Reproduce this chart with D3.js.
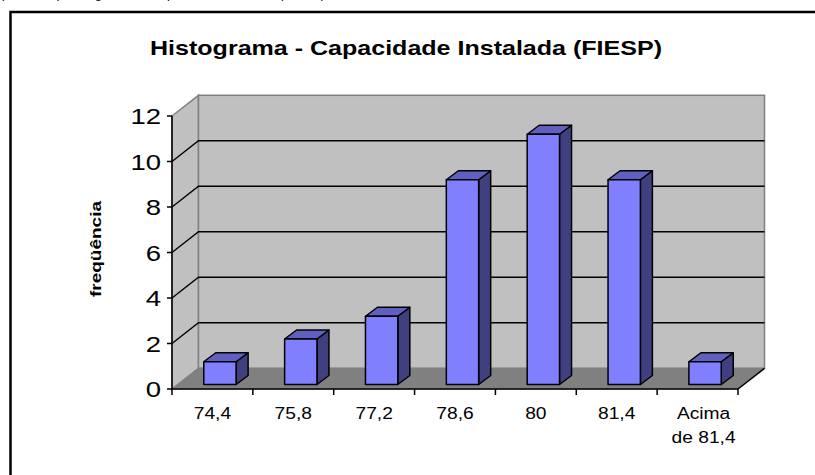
<!DOCTYPE html>
<html>
<head>
<meta charset="utf-8">
<script src="https://cdn.jsdelivr.net/npm/d3@7"></script>
<style>
  body { margin: 0; background: #fff; }
  svg { display: block; font-family: Arial, "Liberation Sans", sans-serif; }
</style>
</head>
<body>
<svg width="815" height="475"></svg>
<script>
// histogram bins and counts
const categories = ["74,4", "75,8", "77,2", "78,6", "80", "81,4", "Acima de 81,4"];
const frequencies = [1, 2, 3, 9, 11, 9, 1];
const yTicks = [0, 2, 4, 6, 8, 10, 12];

const svg = d3.select("svg");

// 3d depth of the plot box
const depthX = 26.5, depthY = -20.7;

const x = d3.scaleBand().domain(categories).range([172, 738]);
const y = d3.scaleLinear().domain([0, 12]).range([389, 116]);

// the original chart's text is drawn a bit wider than the font
function stretch(sel, factor) {
  sel.each(function () {
    const w = this.getComputedTextLength();
    d3.select(this).attr("textLength", w * factor).attr("lengthAdjust", "spacingAndGlyphs");
  });
}

// cut-off caption above the chart
svg.append("text")
  .attr("x", 0).attr("y", -2.5)
  .style("font-size", "13px")
  .text("(Gráfico 1) Histograma da capacidade instalada (FIESP)");

// chart frame (runs off the page to the right and bottom)
svg.append("rect")
  .attr("x", 10.5).attr("y", 12)
  .attr("width", 900).attr("height", 600)
  .attr("fill", "#fff").attr("stroke", "#000").attr("stroke-width", 2.5);

svg.append("text")
  .attr("x", 406).attr("y", 55)
  .attr("text-anchor", "middle")
  .style("font-size", "21px").style("font-weight", "bold")
  .text("Histograma - Capacidade Instalada (FIESP)")
  .attr("textLength", 512).attr("lengthAdjust", "spacingAndGlyphs");

const x0 = x.range()[0], x1 = x.range()[1];
const yb = y(0), yt = y(12);

// walls and floor
svg.append("polygon")
  .attr("points", [[x0, yt], [x0 + depthX, yt + depthY], [x0 + depthX, yb + depthY], [x0, yb]].join(" "))
  .attr("fill", "#c0c0c0").attr("stroke", "#808080").attr("stroke-width", 1.5);
svg.append("rect")
  .attr("x", x0 + depthX).attr("y", yt + depthY)
  .attr("width", x1 - x0).attr("height", yb - yt)
  .attr("fill", "#c0c0c0").attr("stroke", "#808080").attr("stroke-width", 1.5);
svg.append("polygon")
  .attr("points", [[x0, yb], [x0 + depthX, yb + depthY], [x1 + depthX, yb + depthY], [x1, yb]].join(" "))
  .attr("fill", "#808080").attr("stroke", "#808080").attr("stroke-width", 1);

// gridlines: left wall diagonal + back wall
const grid = yTicks.filter(d => d > 0 && d < 12);
svg.append("g").selectAll("path").data(grid).join("path")
  .attr("d", d => `M${x0},${y(d)}L${x0 + depthX},${y(d) + depthY}L${x1 + depthX},${y(d) + depthY}`)
  .attr("fill", "none").attr("stroke", "#000").attr("stroke-width", 1.4);

// y axis
svg.append("line")
  .attr("x1", x0).attr("x2", x0).attr("y1", yb).attr("y2", yt)
  .attr("stroke", "#000").attr("stroke-width", 1.5);
svg.append("g").selectAll("line").data(yTicks).join("line")
  .attr("x1", x0 - 5).attr("x2", x0).attr("y1", d => y(d)).attr("y2", d => y(d))
  .attr("stroke", "#000").attr("stroke-width", 1.5);
svg.append("g").selectAll("text").data(yTicks).join("text")
  .attr("x", x0 - 11).attr("y", d => y(d) + 8)
  .attr("text-anchor", "end")
  .style("font-size", "22px")
  .text(d => d)
  .call(stretch, 1.25);

svg.append("text")
  .attr("transform", "translate(101,249) rotate(-90)")
  .attr("text-anchor", "middle")
  .style("font-size", "15px").style("font-weight", "bold")
  .text("freqüência")
  .attr("textLength", 96).attr("lengthAdjust", "spacingAndGlyphs");

// x axis
svg.append("line")
  .attr("x1", x0).attr("x2", x1).attr("y1", yb).attr("y2", yb)
  .attr("stroke", "#000").attr("stroke-width", 1.5);
svg.append("line")
  .attr("x1", x1).attr("x2", x1 + depthX).attr("y1", yb).attr("y2", yb + depthY)
  .attr("stroke", "#000").attr("stroke-width", 1.5);
const edges = categories.map(c => x(c)).concat([x1]);
svg.append("g").selectAll("line").data(edges).join("line")
  .attr("x1", d => d).attr("x2", d => d).attr("y1", yb).attr("y2", yb + 6)
  .attr("stroke", "#000").attr("stroke-width", 1.5);

const labels = svg.append("g").selectAll("text").data(categories).join("text")
  .attr("text-anchor", "middle")
  .style("font-size", "16px");
labels.each(function (c) {
  const wrapped = c.startsWith("Acima");
  const words = wrapped ? ["Acima", "de 81,4"] : [c];
  d3.select(this).selectAll("tspan").data(words).join("tspan")
    .attr("x", x(c) + x.bandwidth() / 2 + (wrapped ? 6 : 0))
    .attr("y", (w, i) => 419 + i * 24)
    .text(w => w)
    .call(stretch, 1.2);
});

// bars
const bw = x.bandwidth() * 0.4;
const fx = 7.5, fy = -4.5, sx = 12, sy = -9;
const bars = svg.append("g").selectAll("g").data(categories).join("g");
bars.each(function (c, i) {
  const g = d3.select(this);
  const l = x(c) + (x.bandwidth() - bw) / 2 + fx;
  const r = l + bw;
  const b = y(0) + fy;
  const t = y(frequencies[i]) + fy;
  g.append("polygon")
    .attr("points", [[r, t], [r + sx, t + sy], [r + sx, b + sy], [r, b]].join(" "))
    .attr("fill", "#404080");
  g.append("polygon")
    .attr("points", [[l, t], [l + sx, t + sy], [r + sx, t + sy], [r, t]].join(" "))
    .attr("fill", "#6060c0");
  g.append("rect")
    .attr("x", l).attr("y", t).attr("width", bw).attr("height", b - t)
    .attr("fill", "#8080ff");
  g.selectAll("polygon, rect")
    .attr("stroke", "#000").attr("stroke-width", 1.5).attr("stroke-linejoin", "round");
});
</script>
</body>
</html>
